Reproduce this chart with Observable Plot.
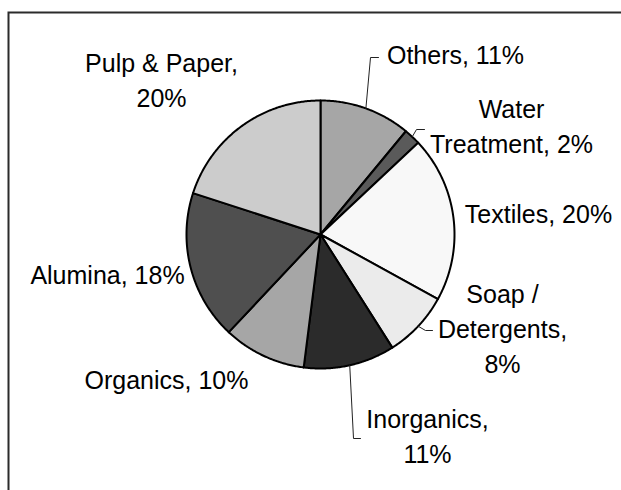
<!DOCTYPE html>
<html><head><meta charset="utf-8">
<script src="https://cdn.jsdelivr.net/npm/d3@7"></script>
<script src="https://cdn.jsdelivr.net/npm/@observablehq/plot@0.6"></script>
<style>html,body{margin:0;padding:0;background:#fff}</style>
</head><body><div id="chart"></div>
<script>
// ---- data ----
const categories = ["Others", "Water Treatment", "Textiles", "Soap / Detergents", "Inorganics", "Organics", "Alumina", "Pulp & Paper"];
const shares = [11, 2, 20, 8, 11, 10, 18, 20];
// label text lines (tick-label equivalent)
const labelLines = [
  ["Others, 11%"],
  ["Water", "Treatment, 2%"],
  ["Textiles, 20%"],
  ["Soap /", "Detergents,", "8%"],
  ["Inorganics,", "11%"],
  ["Organics, 10%"],
  ["Alumina, 18%"],
  ["Pulp & Paper,", "20%"]
];

// ---- layout & style ----
const W = 621, H = 490;
const cx = 320, cy = 234, R = 134;
const sliceColors = ["#a6a6a6", "#5a5a5a", "#f8f8f8", "#ebebeb", "#2b2b2b", "#a6a6a6", "#4f4f4f", "#cccccc"];
const lineGap = 35;
// label centre x and first baseline y
const labelPos = [
  [455, 63], [511, 117], [538, 222], [502, 302], [427, 427], [166, 388], [107, 283], [161, 71]
];
// leader elbow points (from slice edge to label)
const leaders = [
  [[370, 57], [378, 57]],
  [[416, 129], [424, 129]],
  null,
  [[425, 330], [432, 330]],
  [[353, 438], [360, 438]],
  null, null, null
];

const arcs = d3.pie().sort(null).value(d => d)(shares);
const pt = (a, r) => [cx + r * Math.sin(a), cy - r * Math.cos(a)];

const slicePts = [];
arcs.forEach((a, i) => {
  const cat = categories[i];
  slicePts.push({cat, x: cx, y: cy});
  const n = Math.max(2, Math.ceil((a.endAngle - a.startAngle) / (Math.PI / 360)));
  for (let k = 0; k <= n; k++) {
    const ang = a.startAngle + (a.endAngle - a.startAngle) * k / n;
    const [x, y] = pt(ang, R);
    slicePts.push({cat, x, y});
  }
  slicePts.push({cat, x: cx, y: cy});
});

const leaderPts = [];
arcs.forEach((a, i) => {
  if (!leaders[i]) return;
  const [x0, y0] = pt((a.startAngle + a.endAngle) / 2, R);
  leaderPts.push({cat: categories[i], x: x0, y: y0});
  leaders[i].forEach(([x, y]) => leaderPts.push({cat: categories[i], x, y}));
});

const textRows = [];
labelLines.forEach((lines, i) => {
  lines.forEach((t, j) => textRows.push({t, x: labelPos[i][0], y: labelPos[i][1] + j * lineGap}));
});

const chart = Plot.plot({
  width: W, height: H,
  margin: 0,
  x: {domain: [0, W], range: [0, W], axis: null},
  y: {domain: [0, H], range: [0, H], axis: null},
  color: {domain: categories, range: sliceColors},
  style: {fontFamily: "'Liberation Sans', Arial, sans-serif", background: "#fff"},
  marks: [
    Plot.frame({stroke: "#2b2b2b", strokeWidth: 2, insetLeft: 8, insetTop: 12, insetRight: -20, insetBottom: -20}),
    Plot.line(slicePts, {x: "x", y: "y", z: "cat", fill: "cat", stroke: "#000", strokeWidth: 2, strokeLinejoin: "round"}),
    Plot.line(leaderPts, {x: "x", y: "y", z: "cat", stroke: "#222", strokeWidth: 1}),
    Plot.text(textRows, {x: "x", y: "y", text: "t", textAnchor: "middle", lineAnchor: "bottom", fontSize: 25, fill: "#000"})
  ]
});
document.getElementById("chart").appendChild(chart);
</script>
</body></html>
